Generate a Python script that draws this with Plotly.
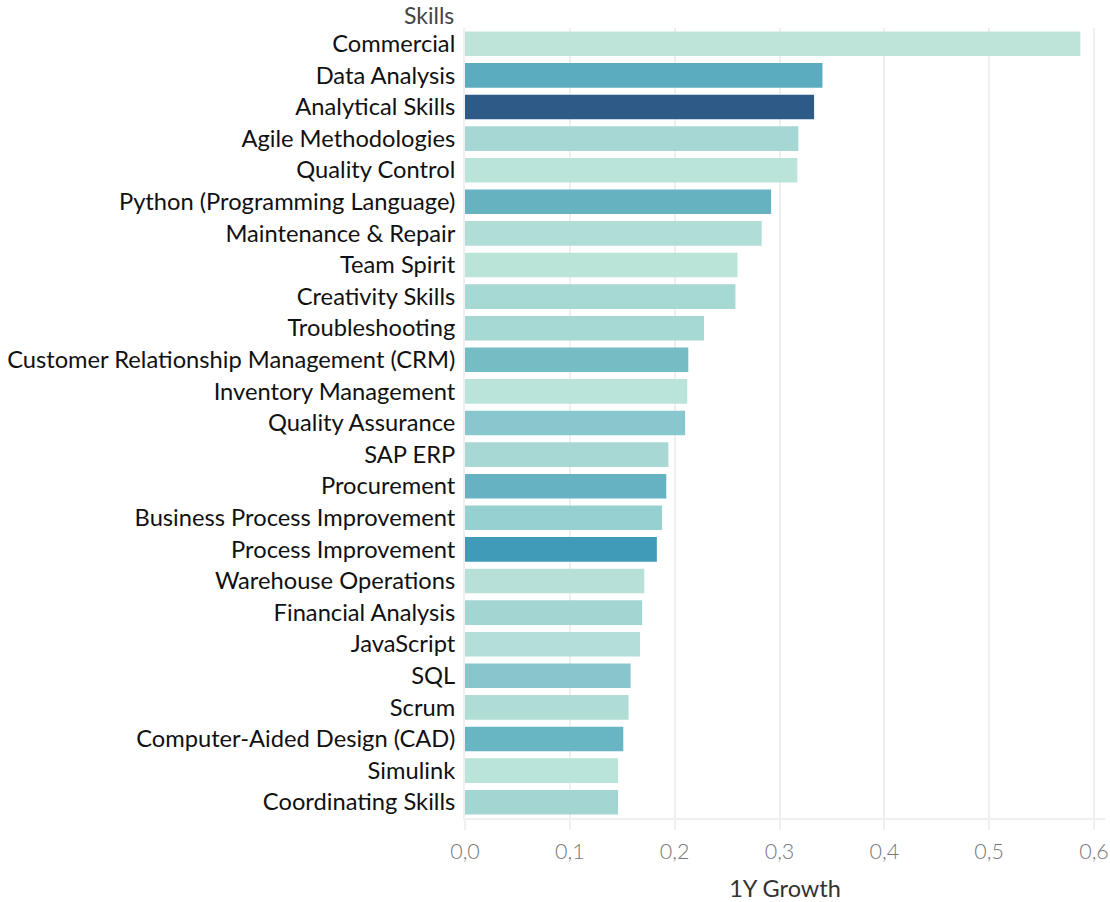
import plotly.graph_objects as go

skills = [
    "Commercial", "Data Analysis", "Analytical Skills", "Agile Methodologies",
    "Quality Control", "Python (Programming Language)", "Maintenance & Repair",
    "Team Spirit", "Creativity Skills", "Troubleshooting",
    "Customer Relationship Management (CRM)", "Inventory Management",
    "Quality Assurance", "SAP ERP", "Procurement", "Business Process Improvement",
    "Process Improvement", "Warehouse Operations", "Financial Analysis",
    "JavaScript", "SQL", "Scrum", "Computer-Aided Design (CAD)", "Simulink",
    "Coordinating Skills",
]
growth = [
    0.587, 0.341, 0.333, 0.318, 0.317, 0.292, 0.283, 0.260, 0.258, 0.228,
    0.213, 0.212, 0.210, 0.194, 0.192, 0.188, 0.183, 0.171, 0.169, 0.167,
    0.158, 0.156, 0.151, 0.146, 0.146,
]
colors = [
    "#BEE4D9", "#5BACBF", "#2D5A86", "#A6D7D4", "#BAE3D9", "#66B2C1",
    "#B0DDD6", "#BBE4D9", "#A6D8D4", "#A6D8D4", "#76BCC5", "#BAE3D9",
    "#88C7CD", "#A7D8D4", "#66B2C2", "#97D0D1", "#3F9BB7", "#B7E1D8",
    "#A3D5D3", "#B3DFD8", "#88C6CC", "#B0DCD6", "#68B5C3", "#BAE3D9",
    "#A3D5D3",
]
x_ticks = [0, 0.1, 0.2, 0.3, 0.4, 0.5, 0.6]

FONT = "Lato"

fig = go.Figure(go.Bar(
    x=growth, y=skills, orientation="h",
    marker=dict(color=colors, line=dict(width=0)),
    hovertemplate="%{y}: %{x}<extra></extra>",
))

fig.update_layout(
    width=1110, height=902,
    margin=dict(l=465, r=5, t=28, b=84),
    paper_bgcolor="white", plot_bgcolor="white",
    bargap=0.22,
    separators=",.",
    showlegend=False,
    font=dict(family=FONT, color="#111111"),
)
fig.update_xaxes(
    range=[0, 0.6105],
    automargin=False,
    tickvals=x_ticks,
    tickformat=".1f",
    showgrid=True, gridcolor="#EFEFEF", gridwidth=2,
    zeroline=False,
    ticks="outside", ticklen=10, tickcolor="#EFEFEF", tickwidth=2,
    ticklabelstandoff=3,
    showline=True, linecolor="#EFEFEF", linewidth=2,
    tickfont=dict(size=21.5, color="#777777", family=FONT, weight=300),
    title=dict(text="1Y Growth", font=dict(size=23.5, color="#333333", family=FONT), standoff=21),
)
fig.update_yaxes(
    autorange="reversed",
    automargin=False,
    showgrid=False,
    ticks="", ticklabelstandoff=3,
    showline=True, linecolor="#EFEFEF", linewidth=2,
    tickfont=dict(size=23.7, color="#111111", family=FONT),
)
fig.add_annotation(
    text="Skills", xref="paper", yref="paper", x=-10 / 640, y=1.0,
    xanchor="right", yanchor="bottom", yshift=-2, borderpad=0, showarrow=False,
    font=dict(size=23, color="#444444", family=FONT),
)

fig.write_html(
    "out.html",
    config={"displayModeBar": False},
    post_script="document.body.style.margin='0';document.body.style.overflow='hidden';"
                "document.documentElement.style.overflow='hidden';",
)
